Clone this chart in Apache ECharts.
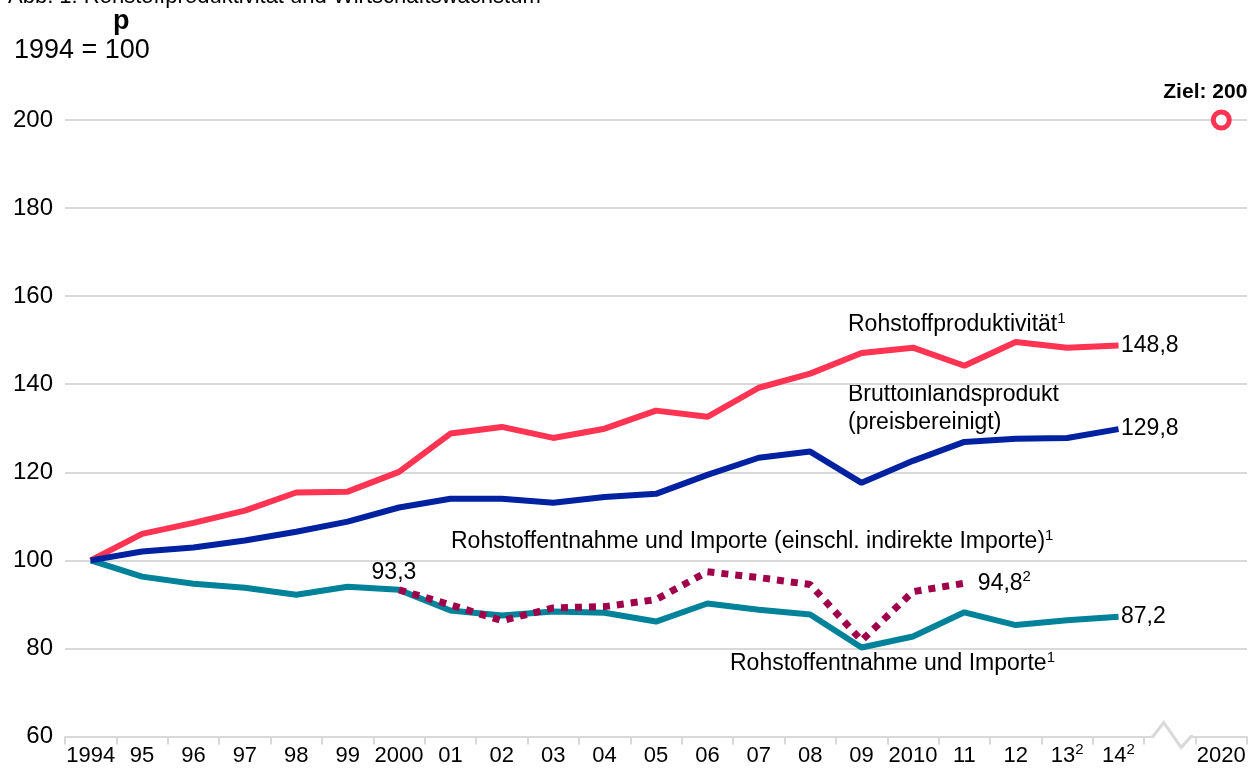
<!DOCTYPE html>
<html><head><meta charset="utf-8">
<script src="https://cdn.jsdelivr.net/npm/echarts@6/dist/echarts.min.js"></script>
<style>html,body{margin:0;padding:0;background:#fff}#c{width:1253px;height:769px}</style>
</head><body><div id="c"></div>
<script>
const categories = ['1994','95','96','97','98','99','2000','01','02','03','04','05','06','07','08','09','2010','11','12','13','14','','2020'];
const supCats = {'13':'2','14':'2'};
const productivity = [100,106,108.5,111.3,115.4,115.6,120.1,128.8,130.3,127.8,129.9,134,132.6,139.2,142.4,147.1,148.3,144.2,149.6,148.3,148.8,null,null];
const gdp = [100,102,102.9,104.5,106.5,108.8,112,114,114,113.1,114.4,115.1,119.4,123.3,124.7,117.6,122.6,126.9,127.6,127.8,129.8,null,null];
const rawMaterials = [100,96.3,94.7,93.8,92.2,94,93.3,88.6,87.5,88.4,88.1,86.1,90.2,88.8,87.7,80.2,82.7,88.2,85.3,86.4,87.2,null,null];
const rawMaterialsIndirect = [null,null,null,null,null,null,93.3,89.9,86.3,89.2,89.5,91.1,97.4,96.1,94.5,81.8,92.9,94.8,null,null,null,null,null];
const target = [null,null,null,null,null,null,null,null,null,null,null,null,null,null,null,null,null,null,null,null,null,null,200];
const yTicks = [60,80,100,120,140,160,180,200];

const FONT = '"Liberation Sans", Arial, sans-serif';
const fmt = v => v.toFixed(1).replace('.', ',');
const LBL = 23;
function richFor(size) {
  return {
    n: {fontSize: size, fontFamily: FONT, color: '#000', lineHeight: 28},
    sup: {fontSize: 15, fontFamily: FONT, color: '#000', lineHeight: 16, padding: [0,0,12,0]}
  };
}
const invisible = {color: 'rgba(0,0,0,0)'};

const chart = echarts.init(document.getElementById('c'));
function endLabel(lastIdx) {
  return {
    show: true, position: 'right', distance: 2,
    fontFamily: FONT, fontSize: LBL, color: '#000',
    formatter: p => p.dataIndex === lastIdx ? fmt(p.value) : ''
  };
}
chart.setOption({
  animation: false,
  grid: {left: 65, right: 6, top: 120, bottom: 32, containLabel: false},
  xAxis: {
    type: 'category', data: categories, boundaryGap: true,
    axisLine: {show: true, lineStyle: {color: '#d9d9d9', width: 2}},
    axisTick: {show: true, interval: 0, length: 8, lineStyle: {color: '#d9d9d9', width: 2}},
    axisLabel: {
      interval: 0, margin: 5, color: '#000', fontFamily: FONT, fontSize: 22,
      formatter: v => '{n|' + v + '}' + (supCats[v] ? '{sup|' + supCats[v] + '}' : ''),
      rich: richFor(22)
    },
    splitLine: {show: false}
  },
  yAxis: {
    type: 'value', min: yTicks[0], max: yTicks[yTicks.length-1], interval: 20,
    axisLine: {show: false}, axisTick: {show: false},
    axisLabel: {margin: 12, color: '#000', fontFamily: FONT, fontSize: 24},
    splitLine: {lineStyle: {color: '#d9d9d9', width: 2}}
  },
  graphic: [
    {type:'text', left: 8, top: -14, style:{text:'Abb. 1: Rohstoffproduktivität und Wirtschaftswachstum', font:'22px ' + FONT, fill:'#000'}},
    {type:'text', left: 113, top: 8, style:{text:'p', font:'bold 27px ' + FONT, fill:'#000'}},
    {type:'text', left: 14, top: 37, style:{text:'1994 = 100', font:'27px ' + FONT, fill:'#000'}},
    {type:'text', left: 848, top: 311, style:{text:'{n|Rohstoffproduktivität}{sup|1}', rich: richFor(LBL)}},
    {type:'text', left: 848, top: 381, style:{text:'Bruttoinlandsprodukt\n(preisbereinigt)', font: LBL + 'px ' + FONT, fill:'#000', lineHeight: 28}},
    {type:'text', left: 451, top: 528, style:{text:'{n|Rohstoffentnahme und Importe (einschl. indirekte Importe)}{sup|1}', rich: richFor(LBL)}},
    {type:'text', left: 730, top: 650, style:{text:'{n|Rohstoffentnahme und Importe}{sup|1}', rich: richFor(LBL)}}
  ],
  series: [
    {type:'line', name:'Rohstoffproduktivität', data: productivity, symbol:'circle', symbolSize: 1, itemStyle: invisible, z:3,
     lineStyle:{color:'#ff3352', width:6}, label: endLabel(20)},
    {type:'line', name:'Rohstoffentnahme und Importe', data: rawMaterials, symbol:'circle', symbolSize: 1, itemStyle: invisible, z:3,
     lineStyle:{color:'#00829a', width:6}, label: endLabel(20)},
    {type:'line', name:'Bruttoinlandsprodukt', data: gdp, symbol:'circle', symbolSize: 1, itemStyle: invisible, z:4,
     lineStyle:{color:'#0022a0', width:6}, label: endLabel(20)},
    {type:'line', name:'Rohstoffentnahme und Importe (einschl. indirekte Importe)', data: rawMaterialsIndirect, z:5,
     symbol:'circle', symbolSize: 1, itemStyle: invisible,
     lineStyle:{color:'#a0004a', width:7, type:[7,7]},
     label: {show:true, position: 'right', distance: 2,
       formatter: p => p.dataIndex === 17 ? '{n|' + fmt(p.value) + '}{sup|2}' : (p.dataIndex === 6 ? '{n|' + fmt(p.value) + '}' : ''),
       rich: richFor(LBL)},
     labelLayout: p => p.dataIndex === 6 ? {dx: -30, dy: -17} : {dx: 11}
    },
    {type:'scatter', name:'Ziel', data: target, symbol:'circle', symbolSize: 16, z:6,
     itemStyle:{color:'#fff', borderColor:'#ff3352', borderWidth:5, opacity:1},
     label:{show:true, position:'top', distance: 7, offset:[-16,0], formatter:'{b|Ziel: 200}',
       rich:{b:{fontFamily:FONT, fontSize:21, fontWeight:'bold', color:'#000'}}}},
    {type:'custom', name:'axisBreak', z:10, silent:true, clip:false,
     data: [[21, yTicks[0]]],
     renderItem: (params, api) => {
       const p = api.coord([api.value(0), api.value(1)]);
       const w = api.size([1, 0])[0];
       return {type:'group', children:[
         {type:'rect', shape:{x:p[0]-w*0.34, y:p[1]-3, width:w*0.78, height:6}, style:{fill:'#fff'}},
         {type:'polyline', shape:{points:[[p[0]-w*0.36,p[1]],[p[0]-w*0.33,p[1]],[p[0]-w*0.12,p[1]-14],[p[0]+w*0.22,p[1]+11],[p[0]+w*0.41,p[1]],[p[0]+w*0.45,p[1]]]},
          style:{stroke:'#d9d9d9', lineWidth:3, fill:null}}
       ]};
     }}
  ]
});
</script></body></html>
